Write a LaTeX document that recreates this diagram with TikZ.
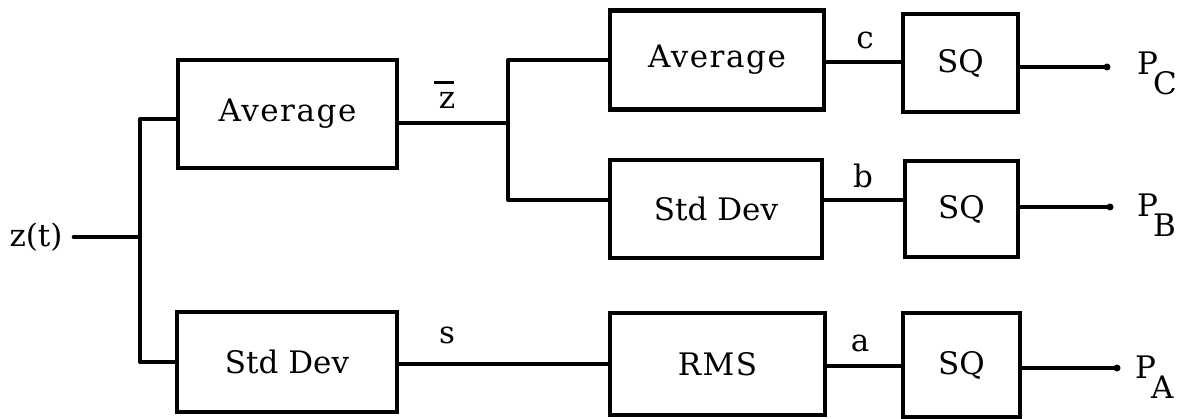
\documentclass[tikz,border=0pt]{standalone}
\usepackage{fontspec}
\setmainfont{DejaVu Serif}
\newcommand{\spaced}[1]{{\addfontfeature{LetterSpace=5}#1}}
\newcommand{\Psub}[1]{P\kern-5pt\raisebox{-20pt}{#1}}
\newcommand{\zbar}{\makebox[0pt][l]{\kern-5pt\raisebox{25pt}{\rule{20pt}{2.5pt}}}z}
\begin{document}
\begin{tikzpicture}[x=1pt,y=-1pt,
  blk/.style={draw,line width=4.5pt,inner sep=0pt,font=\fontsize{31}{36}\selectfont},
  wire/.style={line width=4pt,line cap=round,line join=round},
  lbl/.style={inner sep=0pt,font=\fontsize{31}{36}\selectfont},
  tip/.style={circle,fill,inner sep=0pt,minimum size=7pt}]
\useasboundingbox (0,0) rectangle (1190,419);

% processing blocks
\node[blk,minimum width=219pt,minimum height=108pt] (avg1) at (287.5,114) {\spaced{Average}};
\node[blk,minimum width=220pt,minimum height=100pt] (sd1)  at (287,362)   {Std Dev};
\node[blk,minimum width=214pt,minimum height=99pt]  (avg2) at (717,60)    {\spaced{Average}};
\node[blk,minimum width=212pt,minimum height=98pt]  (sd2)  at (716,209)   {Std Dev};
\node[blk,minimum width=215pt,minimum height=102pt] (rms)  at (717.5,364) {\spaced{RMS}};
\node[blk,minimum width=115pt,minimum height=98pt]  (sqc)  at (960.5,63)  {SQ};
\node[blk,minimum width=113pt,minimum height=96pt]  (sqb)  at (961.5,209) {SQ};
\node[blk,minimum width=117pt,minimum height=104pt] (sqa)  at (961.5,365) {SQ};

% input and branch points
\node[lbl] (zin) at (36,237) {z(t)};
\coordinate (jin) at (140,237);
\coordinate (jz)  at (508,123);
\coordinate (jb)  at (508,200);
\coordinate (jc)  at (508,60);

% signal labels
\node[lbl] (zbarlbl) at (447,95) {\zbar};
\node[lbl] (sl) at (447,335) {s};
\node[lbl] (al) at (860,343) {a};
\node[lbl] (bl) at (863,176) {b};
\node[lbl] (cl) at (865,40) {c};

% output terminals
\node[tip] (pc) at (1107,67) {};
\node[tip] (pb) at (1110,207) {};
\node[tip] (pa) at (1117,368) {};
\node[lbl,anchor=base west] (lc) at (1137,75)  {\Psub{C}};
\node[lbl,anchor=base west] (lb) at (1137,217) {\Psub{B}};
\node[lbl,anchor=base west] (la) at (1135,378) {\Psub{A}};

% input fan-out
\draw[wire] (zin.east) ++(11pt,0) -- (jin);
\draw[wire] (avg1.west |- 0,119) -| (jin) |- (sd1.west);

% mean branch
\draw[wire] (avg1.east |- jz) -- (jz);
\draw[wire] (avg2.west) -| (jc) -- (jb) -- (jb -| sd2.west);

% block chains
\draw[wire] (avg2.east |- 0,62) -- (sqc.west |- 0,62);
\draw[wire] (sd2.east |- jb) -- (sqb.west |- jb);
\draw[wire] (sd1.east |- 0,364) -- (rms.west |- 0,364);
\draw[wire] (rms.east |- 0,366) -- (sqa.west |- 0,366);

% outputs
\draw[wire] (sqc.east |- pc) -- (pc);
\draw[wire] (sqb.east |- pb) -- (pb);
\draw[wire] (sqa.east |- pa) -- (pa);
\end{tikzpicture}
\end{document}
